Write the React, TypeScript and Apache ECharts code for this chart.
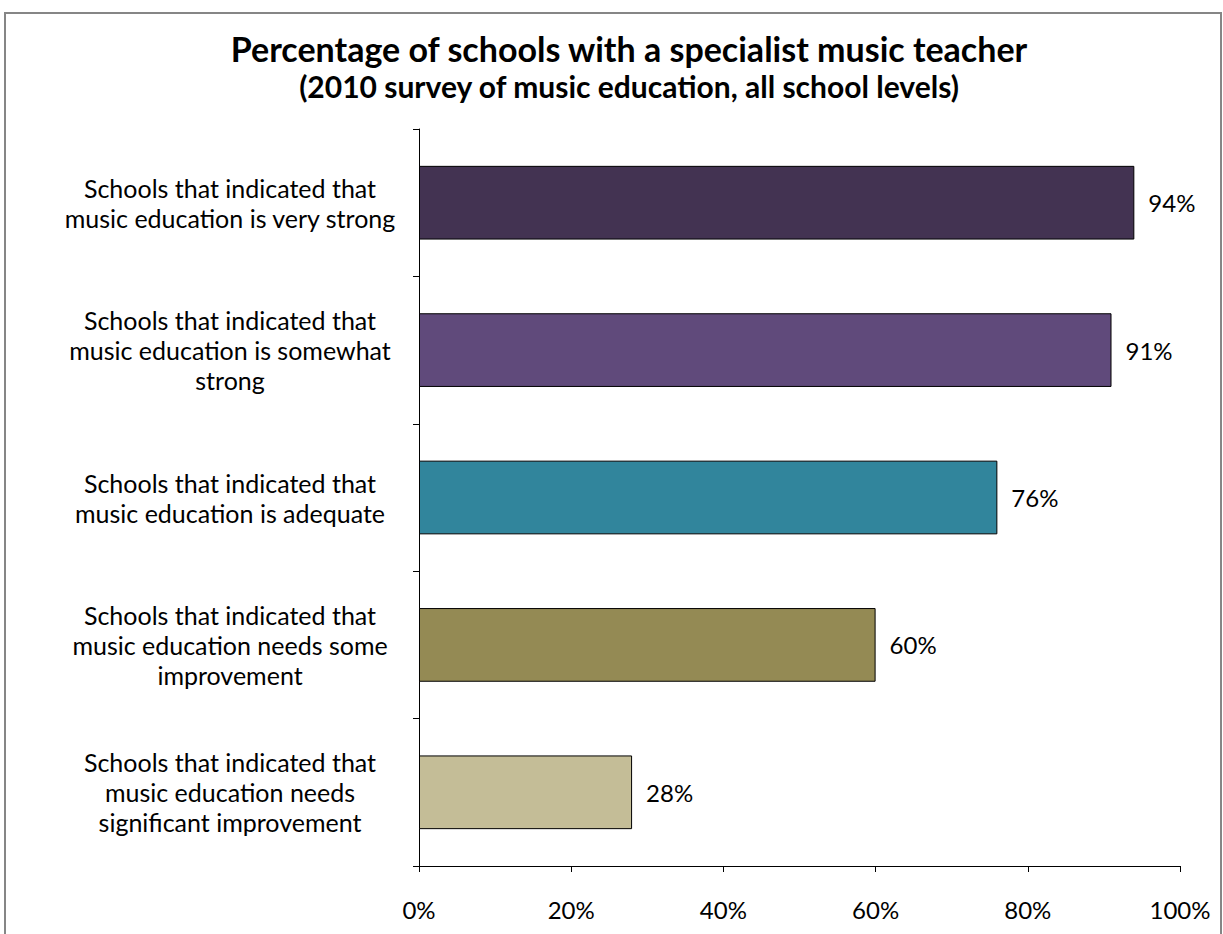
import React, { useEffect, useRef } from "react";
import * as echarts from "echarts";

const categories = [
  "Schools that indicated that\nmusic education is very strong",
  "Schools that indicated that\nmusic education is somewhat\nstrong",
  "Schools that indicated that\nmusic education is adequate",
  "Schools that indicated that\nmusic education needs some\nimprovement",
  "Schools that indicated that\nmusic education needs\nsignificant improvement",
];
const values = [94, 91, 76, 60, 28];
const barColors = ["#433352", "#604a7b", "#31859c", "#948a54", "#c4bd97"];
const xTicks = [0, 20, 40, 60, 80, 100];

const FONT = "Lato";

export default function App() {
  const ref = useRef<HTMLDivElement>(null);
  useEffect(() => {
    const chart = echarts.init(ref.current!, null, { renderer: "svg" });
    chart.setOption({
      animation: false,
      backgroundColor: "#ffffff",
      textStyle: { fontFamily: FONT },
      title: {
        text: "Percentage of schools with a specialist music teacher",
        subtext: "(2010 survey of music education, all school levels)",
        left: 624,
        textAlign: "center",
        top: 26,
        itemGap: 6,
        textStyle: { fontFamily: FONT, fontSize: 34, fontWeight: "bold", color: "#000" },
        subtextStyle: { fontFamily: FONT, fontSize: 30, fontWeight: "bold", color: "#000" },
      },
      graphic: [
        {
          type: "rect",
          shape: { x: 5, y: 13, width: 1216, height: 940 },
          style: { fill: "none", stroke: "#868686", lineWidth: 2 },
          silent: true,
        },
      ],
      grid: { left: 419, right: 43, top: 129, bottom: 68, containLabel: false },
      xAxis: {
        type: "value",
        min: 0,
        max: 100,
        interval: 20,
        axisLine: { show: true, lineStyle: { color: "#000", width: 1 } },
        axisTick: { show: true, length: 6, lineStyle: { color: "#000" } },
        splitLine: { show: false },
        axisLabel: {
          formatter: (v: number) => (xTicks.includes(v) ? `${v}%` : ""),
          fontFamily: FONT,
          fontSize: 24,
          color: "#000",
          margin: 31,
        },
      },
      yAxis: {
        type: "category",
        inverse: true,
        data: categories,
        axisLine: { show: true, lineStyle: { color: "#000", width: 1 } },
        axisTick: { show: true, length: 6, lineStyle: { color: "#000" } },
        axisLabel: {
          fontFamily: FONT,
          fontSize: 25,
          color: "#000",
          align: "center",
          margin: 189,
          lineHeight: 30,
        },
      },
      series: [
        {
          type: "bar",
          data: values.map((v, i) => ({ value: v, itemStyle: { color: barColors[i] } })),
          barWidth: "50%",
          itemStyle: { borderColor: "#000", borderWidth: 1 },
          label: {
            show: true,
            position: "right",
            distance: 14,
            formatter: (p: any) => `${p.value}%`,
            fontFamily: FONT,
            fontSize: 24,
            color: "#000",
          },
        },
      ],
    });
    return () => chart.dispose();
  }, []);
  return (
    <div
      ref={ref}
      style={{ position: "fixed", left: 0, top: 0, width: 1223, height: 934 }}
    />
  );
}
